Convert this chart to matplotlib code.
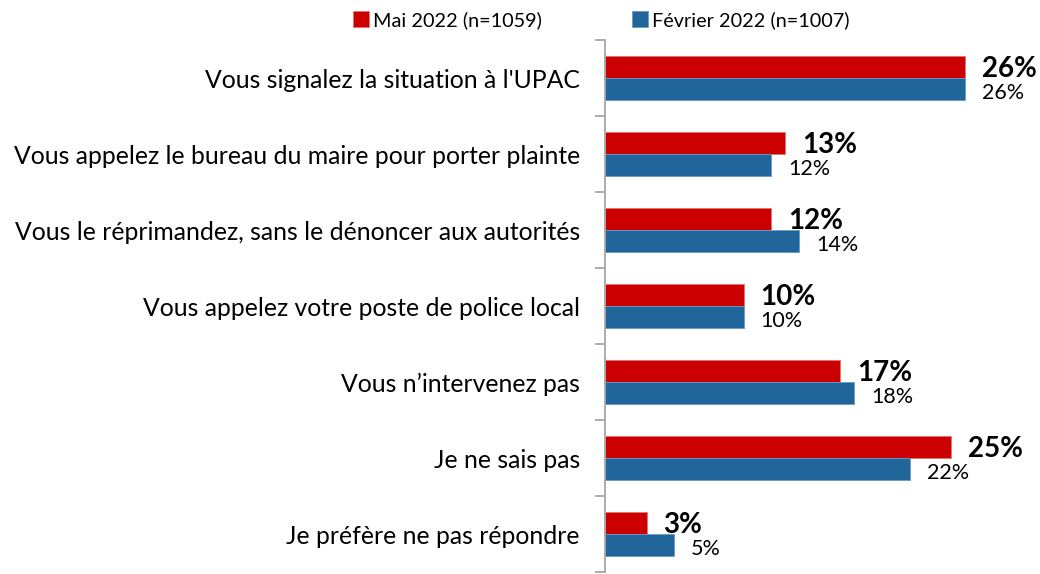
import matplotlib
matplotlib.use("Agg")
import matplotlib.pyplot as plt
import numpy as np

categories = [
    "Vous signalez la situation à l'UPAC",
    "Vous appelez le bureau du maire pour porter plainte",
    "Vous le réprimandez, sans le dénoncer aux autorités",
    "Vous appelez votre poste de police local",
    "Vous n’intervenez pas",
    "Je ne sais pas",
    "Je préfère ne pas répondre",
]
mai_2022 = [26, 13, 12, 10, 17, 25, 3]
fev_2022 = [26, 12, 14, 10, 18, 22, 5]
series_labels = ["Mai 2022 (n=1059)", "Février 2022 (n=1007)"]

RED = "#CC0000"
BLUE = "#21669A"
FONT = ["Lato", "DejaVu Sans"]
plt.rcParams["font.family"] = FONT

fig = plt.figure(figsize=(10.4, 5.74), dpi=100)
ax = fig.add_axes([605 / 1040, 2 / 574, 415.5 / 1040, 532 / 574])

y = np.arange(len(categories))
h = 0.285
ax.barh(y - h / 2, mai_2022, height=h, color=RED, edgecolor="#E57373", linewidth=0.6, label=series_labels[0])
ax.barh(y + h / 2, fev_2022, height=h, color=BLUE, edgecolor="#6A9AC4", linewidth=0.6, label=series_labels[1])

ax.set_xlim(0, 30)
ax.set_ylim(len(categories) - 0.5, -0.5)

# value labels
off = 17 * 30 / 415.5
for i, (m, f) in enumerate(zip(mai_2022, fev_2022)):
    ax.text(m + off, i - h / 2 + 0.02, f"{m}%", ha="left", va="center", fontsize=20,
            fontweight="bold", color="black", clip_on=False)
    ax.text(f + off, i + h / 2 + 0.06, f"{f}%", ha="left", va="center", fontsize=15.5,
            color="black", clip_on=False)

for s in ["top", "right", "bottom"]:
    ax.spines[s].set_visible(False)
ax.spines["left"].set_color("#A6A6A6")
ax.spines["left"].set_linewidth(1.3)

ax.set_xticks([])
ax.set_yticks(y)
ax.set_yticklabels(categories, fontsize=17.8)
ax.tick_params(axis="y", which="major", length=0, pad=18)
ax.set_yticks(np.arange(-0.5, len(categories), 1), minor=True)
ax.tick_params(axis="y", which="minor", length=7, width=1.3, color="#A6A6A6")

leg = fig.legend(loc="center", bbox_to_anchor=(601 / 1040, 1 - 20 / 574), ncol=2,
                 frameon=False, fontsize=14.3, handlelength=0.8, handleheight=0.8,
                 handletextpad=0.2, columnspacing=4.55)

fig.savefig("out.png", dpi=100)
